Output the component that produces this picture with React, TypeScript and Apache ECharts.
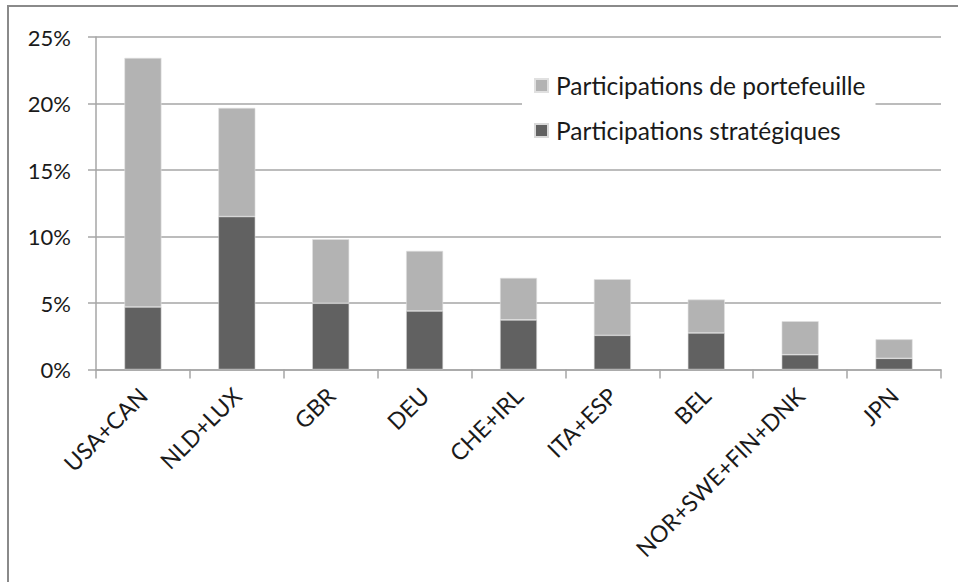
import React, { useEffect, useRef } from "react";
import * as echarts from "echarts";

const categories = ["USA+CAN", "NLD+LUX", "GBR", "DEU", "CHE+IRL", "ITA+ESP", "BEL", "NOR+SWE+FIN+DNK", "JPN"];
const totals = [23.43, 19.67, 9.8, 8.92, 6.89, 6.79, 5.26, 3.63, 2.27];
const strategic = [4.7, 11.5, 4.98, 4.4, 3.73, 2.57, 2.75, 1.11, 0.84];
const portfolio = totals.map((t, i) => +(t - strategic[i]).toFixed(2));
const yTicks = [0, 5, 10, 15, 20, 25];

const FONT = "Lato, 'Open Sans', sans-serif";

export default function App() {
  const ref = useRef<HTMLDivElement>(null);
  useEffect(() => {
    document.body.style.margin = "0";
    const chart = echarts.init(ref.current!, undefined, { renderer: "svg" });
    chart.setOption({
      animation: false,
      backgroundColor: "#ffffff",
      textStyle: { fontFamily: FONT },
      grid: { left: 96, right: 17, top: 37, bottom: 212.5, containLabel: false },
      legend: {
        orient: "vertical",
        left: 522,
        top: 66,
        backgroundColor: "#ffffff",
        padding: [6, 10, 6, 12],
        itemWidth: 13,
        itemHeight: 13,
        itemGap: 18,
        icon: "rect",
        data: ["Participations de portefeuille", "Participations stratégiques"],
        textStyle: { fontSize: 24.5, color: "#1a1a1a", fontFamily: FONT, lineHeight: 27, padding: [0, 0, 0, 3] },
      },
      xAxis: {
        type: "category",
        data: categories,
        axisLine: { lineStyle: { color: "#a6a6a6", width: 1.5 } },
        axisTick: { show: true, length: 9, lineStyle: { color: "#a6a6a6", width: 1.5 } },
        axisLabel: { rotate: 45, fontSize: 23, color: "#1a1a1a", margin: 22, interval: 0, fontFamily: FONT },
      },
      yAxis: {
        type: "value",
        min: 0,
        max: 25,
        interval: 5,
        axisLine: { show: true, lineStyle: { color: "#a6a6a6", width: 1.5 } },
        axisTick: { show: true, length: 8, lineStyle: { color: "#a6a6a6", width: 1.5 } },
        splitLine: { lineStyle: { color: "#a6a6a6", width: 1.5 } },
        axisLabel: {
          fontSize: 22,
          color: "#1a1a1a",
          margin: 25,
          fontFamily: FONT,
          formatter: (v: number) => (yTicks.includes(v) ? v + "%" : ""),
        },
      },
      series: [
        {
          name: "Participations stratégiques",
          type: "bar",
          stack: "total",
          data: strategic,
          barWidth: 37,
          itemStyle: { color: "#616161", borderColor: "#d9d9d9", borderWidth: 0.6 },
        },
        {
          name: "Participations de portefeuille",
          type: "bar",
          stack: "total",
          data: portfolio,
          barWidth: 37,
          itemStyle: { color: "#b3b3b3", borderColor: "#e0e0e0", borderWidth: 0.6 },
        },
      ],
      graphic: [
        { type: "line", shape: { x1: 8, y1: 6, x2: 8, y2: 582 }, style: { stroke: "#8a8a8a", lineWidth: 2 } },
        { type: "line", shape: { x1: 7, y1: 6, x2: 958, y2: 6 }, style: { stroke: "#8a8a8a", lineWidth: 2 } },
      ],
    });
    return () => chart.dispose();
  }, []);
  return <div ref={ref} style={{ width: 958, height: 582 }} />;
}
